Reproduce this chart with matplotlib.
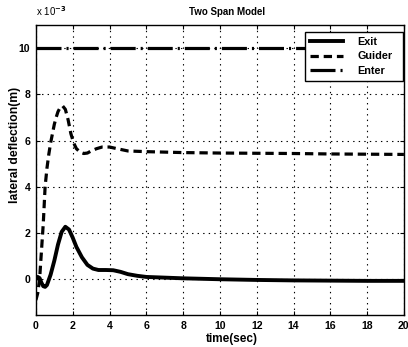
import matplotlib
matplotlib.use("Agg")
import matplotlib.pyplot as plt

plt.rcParams['font.family'] = ['Liberation Sans', 'DejaVu Sans']
plt.rcParams['font.weight'] = 'bold'
plt.rcParams['lines.scale_dashes'] = False

# time (sec) and lateral deflection (x 10^-3 m)
exit_t = [0, 0.1, 0.2, 0.3, 0.4, 0.5, 0.6, 0.8, 1.0, 1.2, 1.4, 1.6, 1.8, 2.0, 2.2,
          2.5, 2.8, 3.1, 3.4, 3.8, 4.2, 4.6, 5.0, 5.5, 6, 7, 8, 9, 10, 12, 14, 16, 18, 20]
exit_y = [0.0, 0.1, 0.05, -0.15, -0.3, -0.33, -0.25, 0.2, 0.8, 1.5, 2.05, 2.27, 2.15,
          1.8, 1.4, 0.95, 0.62, 0.46, 0.4, 0.4, 0.39, 0.32, 0.22, 0.15, 0.1, 0.07, 0.04,
          0.02, 0.0, -0.03, -0.05, -0.06, -0.07, -0.07]

guider_t = [0, 0.1, 0.2, 0.3, 0.4, 0.5, 0.6, 0.7, 0.8, 0.9, 1.0, 1.1, 1.2, 1.3, 1.45,
            1.6, 1.75, 1.9, 2.05, 2.2, 2.4, 2.6, 2.8, 3.0, 3.3, 3.6, 4.0, 4.4, 5, 6, 8,
            10, 12, 14, 16, 18, 20]
guider_y = [-0.9, -0.6, 0.0, 1.2, 2.4, 4.0, 4.8, 5.4, 5.9, 6.3, 6.7, 7.0, 7.25, 7.4,
            7.5, 7.35, 6.9, 6.3, 5.9, 5.65, 5.5, 5.44, 5.46, 5.55, 5.65, 5.72, 5.72,
            5.65, 5.55, 5.52, 5.48, 5.46, 5.45, 5.44, 5.42, 5.41, 5.4]

enter_t = [0, 20]
enter_y = [10, 10]

x_ticks = list(range(0, 21, 2))
y_ticks = [0, 2, 4, 6, 8, 10]

fig = plt.figure(figsize=(4.08, 3.47), dpi=100)
ax = fig.add_axes([0.088, 0.092, 0.902, 0.836])

ax.plot(exit_t, exit_y, color='black', lw=2.8, label='Exit', solid_joinstyle='round')
ax.plot(guider_t, guider_y, color='black', lw=2.3, dashes=(6, 3.5), label='Guider')
ax.plot(enter_t, enter_y, color='black', lw=2.3, dashes=(18, 3.6, 1.5, 3.6), label='Enter')

ax.set_xlim(0, 20)
ax.set_ylim(-1.55, 11)
ax.set_xticks(x_ticks)
ax.set_yticks(y_ticks)
ax.tick_params(direction='in', length=3, top=True, right=True, labelsize=7.6, width=0.8, pad=4)
for lab in ax.get_xticklabels() + ax.get_yticklabels():
    lab.set_fontweight('bold')
ax.grid(True, color='black', linestyle=(0, (1, 3)), lw=0.8)
for s in ax.spines.values():
    s.set_linewidth(1.0)

ax.set_title('Two Span Model', fontsize=7, fontweight='bold', pad=7, x=0.52)
ax.set_xlabel('time(sec)', fontsize=8.5, fontweight='bold')
ax.xaxis.set_label_coords(0.533, -0.062)
ax.set_ylabel('lateral deflection(m)', fontsize=8.7, fontweight='bold')
ax.yaxis.set_label_coords(-0.04, 0.586)
ax.text(0.0, 1.025, r'x 10$^{-3}$', transform=ax.transAxes, fontsize=7,
        fontweight='normal', ha='left', va='bottom')

leg = ax.legend(loc='upper left', bbox_to_anchor=(0.731, 0.976, 0.266, 0.0),
                mode='expand', borderaxespad=0, fontsize=7.8,
                frameon=True, fancybox=False, edgecolor='black', framealpha=1,
                handlelength=3.1, borderpad=0.45, labelspacing=0.42, handletextpad=1.3)
leg.get_frame().set_linewidth(1.0)
for t in leg.get_texts():
    t.set_fontweight('bold')

fig.savefig('out.png', dpi=100)
